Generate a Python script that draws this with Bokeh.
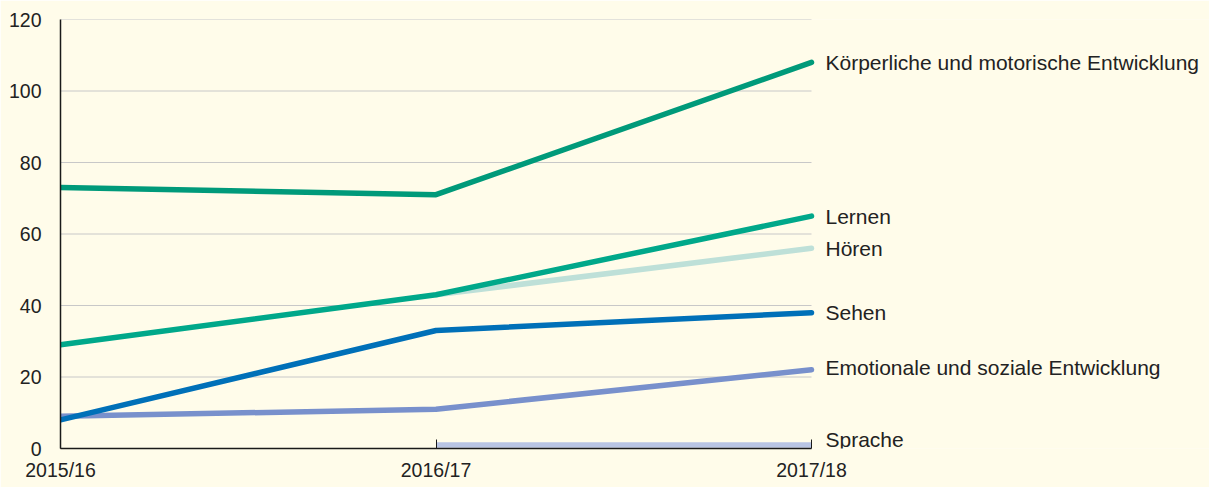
from bokeh.plotting import figure
from bokeh.models import Range1d, FixedTicker
from bokeh.core.properties import value
from bokeh.embed import file_html
from bokeh.resources import INLINE

years = ["2015/16", "2016/17", "2017/18"]
x_pos = [0, 1, 2]
koerper = [73, 71, 108]
lernen = [29, 43, 65]
hoeren = [float("nan"), 43, 56]
sehen = [8, 33, 38]
emotional = [9, 11, 22]
sprache = [float("nan"), 1, 1]
y_ticks = [0, 20, 40, 60, 80, 100, 120]

series = [
    ("Sprache", sprache, "#B8C4E4"),
    ("Emotionale und soziale Entwicklung", emotional, "#7890CC"),
    ("Hören", hoeren, "#BEE0D8"),
    ("Lernen", lernen, "#00A88A"),
    ("Sehen", sehen, "#0070B8"),
    ("Körperliche und motorische Entwicklung", koerper, "#009A7A"),
]
label_offsets = {"Sprache": 5, "Emotionale und soziale Entwicklung": 2}

BG = "#FFFCEA"
FONT = "Liberation Sans"

W, H = 1209, 487
left, right, top, bottom = 60, 0, 19, 39
frame_w = W - left - right
data_w = 751  # pixels spanned by x from 0 to 2
x_end = 2 * frame_w / data_w

p = figure(width=W, height=H, output_backend="svg", toolbar_location=None,
           x_range=Range1d(0, x_end), y_range=Range1d(0, 120),
           min_border_left=left, min_border_right=right,
           min_border_top=top, min_border_bottom=bottom)
p.background_fill_color = BG
p.border_fill_color = BG
p.outline_line_color = None

p.xgrid.grid_line_color = None
p.ygrid.grid_line_color = None
# horizontal grid lines only across the data span
p.segment(x0=[x_pos[0]] * len(y_ticks), y0=y_ticks,
          x1=[x_pos[-1]] * len(y_ticks), y1=y_ticks,
          line_color="#C8C8C8", line_width=1)

p.yaxis.ticker = FixedTicker(ticks=y_ticks)
p.xaxis.ticker = FixedTicker(ticks=x_pos)
p.xaxis.bounds = (x_pos[0], x_pos[-1])
p.xaxis.major_label_overrides = {i: y for i, y in zip(x_pos, years)}

for ax in (p.xaxis, p.yaxis):
    ax.axis_line_color = "#1a1a1a"
    ax.axis_line_width = 1.5
    ax.minor_tick_line_color = None
    ax.major_label_text_font = FONT
    ax.major_label_text_font_size = "19.5px"
    ax.major_label_text_color = "#222222"
p.yaxis.major_tick_line_color = None
p.yaxis.major_label_standoff = 13
p.xaxis.major_tick_in = 9
p.xaxis.major_tick_out = 0
p.xaxis.major_tick_line_color = "#1a1a1a"
p.xaxis.major_label_standoff = 10

for name, vals, col in series:
    cap = "butt" if name == "Sprache" else "round"
    p.line(x_pos, vals, line_color=col, line_width=5.5, line_cap=cap, line_join="round")
    p.text(x=[x_pos[-1]], y=[vals[-1]], text=[name], x_offset=14,
           y_offset=-label_offsets.get(name, 0),
           text_baseline="middle", text_align="left",
           text_font=value(FONT), text_font_size="21px", text_color="#222222")

html = file_html(p, INLINE)
html = html.replace("<body>", '<body style="background:%s">' % BG, 1)
open("out.html", "w").write(html)
